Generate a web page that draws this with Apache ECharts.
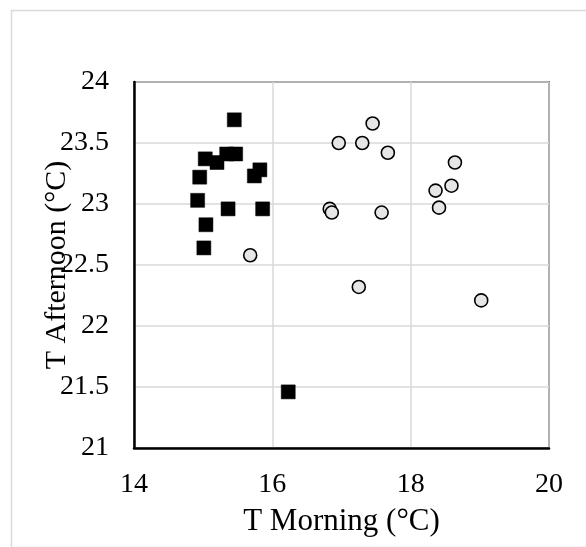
<!DOCTYPE html>
<html>
<head>
<meta charset="utf-8">
<script src="https://cdn.jsdelivr.net/npm/echarts@6/dist/echarts.min.js"></script>
<style>
html,body{margin:0;padding:0;background:#fff;}
#c{width:586px;height:547px;}
</style>
</head>
<body>
<div id="c"></div>
<script>
var xTicks = [14, 16, 18, 20];
var yTicks = [21, 21.5, 22, 22.5, 23, 23.5, 24];
var squaresX = [15.45, 15.03, 15.20, 15.34, 15.47, 14.95, 15.82, 15.74, 14.92, 15.36, 15.86, 15.04, 15.01, 16.23];
var squaresY = [23.69, 23.37, 23.34, 23.41, 23.41, 23.22, 23.28, 23.23, 23.03, 22.96, 22.96, 22.83, 22.64, 21.46];
var circlesX = [15.68, 17.45, 16.96, 17.30, 17.67, 18.64, 18.59, 18.36, 18.41, 16.83, 16.86, 17.58, 17.25, 19.02];
var circlesY = [22.58, 23.66, 23.50, 23.50, 23.42, 23.34, 23.15, 23.11, 22.97, 22.96, 22.93, 22.93, 22.32, 22.21];

function pairs(xs, ys){ return xs.map(function(x,i){ return [x, ys[i]]; }); }

var font = 'Liberation Serif';
var chart = echarts.init(document.getElementById('c'));
chart.setOption({
  animation: false,
  backgroundColor: '#fff',
  graphic: [{
    type: 'rect', left: 9, top: 8,
    shape: {width: 576, height: 537},
    style: {fill: 'none', stroke: '#d9d9d9', lineWidth: 1.5},
    silent: true, z: -10
  }],
  grid: {left: 134, right: 37, top: 82, bottom: 99, show: true, borderColor: '#000', borderWidth: 1.5, backgroundColor: 'transparent'},
  xAxis: {
    type: 'value', min: xTicks[0], max: xTicks[xTicks.length-1], interval: 2,
    name: 'T Morning (°C)', nameLocation: 'middle', nameGap: 58, nameMoveOverlap: false,
    nameTextStyle: {fontFamily: font, fontSize: 31, color: '#000'},
    axisLine: {show: true, onZero: false, lineStyle: {color: '#000', width: 2.5}},
    axisTick: {show: false},
    axisLabel: {fontFamily: font, fontSize: 28, color: '#000', margin: 23},
    splitLine: {show: true, lineStyle: {color: '#d9d9d9', width: 1.5}}
  },
  yAxis: {
    type: 'value', min: yTicks[0], max: yTicks[yTicks.length-1], interval: 0.5,
    name: 'T Afternoon (°C)', nameLocation: 'middle', nameGap: 62, nameMoveOverlap: false,
    nameTextStyle: {fontFamily: font, fontSize: 30, color: '#000'},
    axisLine: {show: true, onZero: false, lineStyle: {color: '#000', width: 2.5}},
    axisTick: {show: false},
    axisLabel: {fontFamily: font, fontSize: 28, color: '#000', margin: 25},
    splitLine: {show: true, lineStyle: {color: '#d9d9d9', width: 1.5}}
  },
  series: [{
    type: 'scatter', data: pairs(squaresX, squaresY),
    symbol: 'rect', symbolSize: 14,
    itemStyle: {color: '#000', borderColor: '#000', borderWidth: 0.5, opacity: 1}
  }, {
    type: 'scatter', data: pairs(circlesX, circlesY),
    symbol: 'circle', symbolSize: 13,
    itemStyle: {color: '#e7e6e6', borderColor: '#000', borderWidth: 1.6, opacity: 1}
  }]
});
</script>
</body>
</html>
